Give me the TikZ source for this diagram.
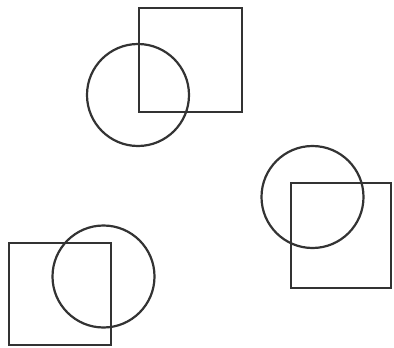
\documentclass[tikz,border=0pt]{standalone}
\begin{document}
\begin{tikzpicture}[x=1pt,y=-1pt,
  shapeline/.style={draw=black!80,line width=2.2pt}]
\useasboundingbox (0,0) rectangle (394,348);
% top pair
\draw[shapeline] (139,8) rectangle (242,112);
\draw[shapeline] (138,95) circle[radius=51];
% right pair
\draw[shapeline] (312.5,197) circle[radius=51];
\draw[shapeline] (291,183) rectangle (391,288);
% bottom-left pair
\draw[shapeline] (9,243) rectangle (111,345);
\draw[shapeline] (103.5,276.5) circle[radius=51];
\end{tikzpicture}
\end{document}
